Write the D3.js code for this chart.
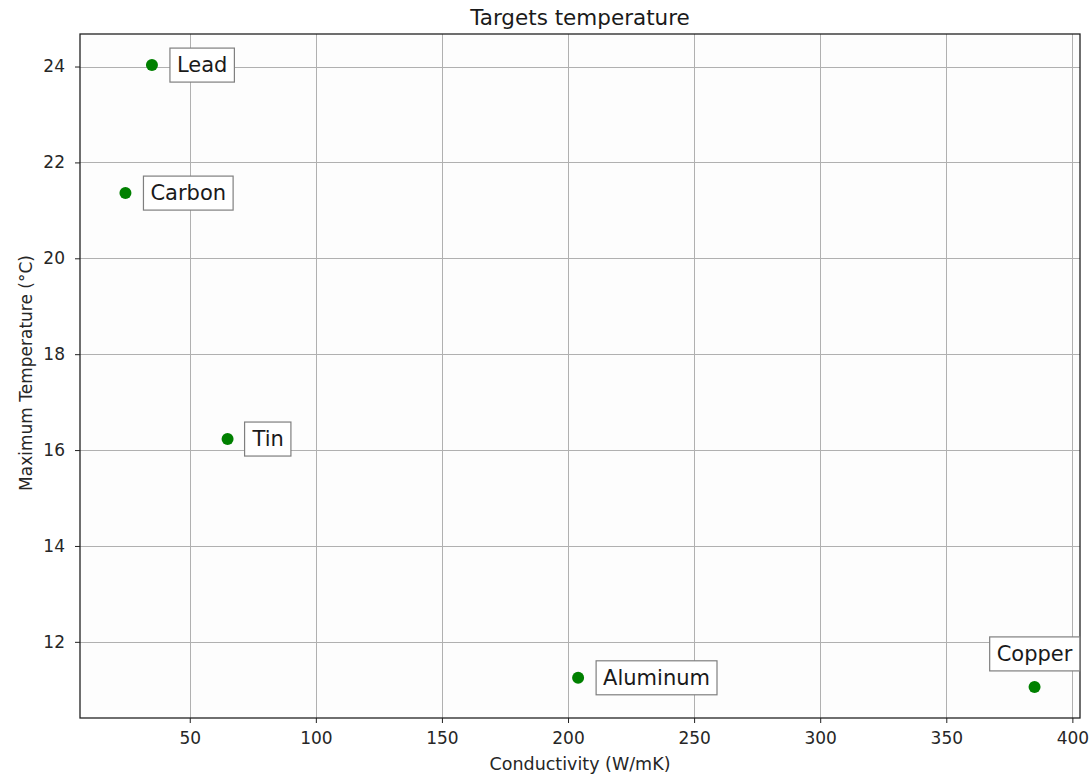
<!DOCTYPE html>
<html>
<head>
<meta charset="utf-8">
<script src="https://cdn.jsdelivr.net/npm/d3@7"></script>
<style>
  html, body { margin: 0; padding: 0; background: #ffffff; }
  svg { display: block; font-family: "DejaVu Sans", sans-serif; }
</style>
</head>
<body>
<svg id="chart" width="1091" height="778"></svg>
<script>
// Target materials: thermal conductivity vs. peak temperature
const materials = ["Lead", "Carbon", "Tin", "Aluminum", "Copper"];
const conductivity = [35, 24.5, 65, 204, 385];
const maxTemperature = [24.03, 21.36, 16.23, 11.25, 11.06];
// label placement: "right" of the point, or "above" it
const labelSide = ["right", "right", "right", "right", "above"];

const xTicks = [50, 100, 150, 200, 250, 300, 350, 400];
const yTicks = [12, 14, 16, 18, 20, 22, 24];

const W = 1091, H = 778;
const margin = { left: 80, right: 11, top: 34, bottom: 60 };
const plotW = W - margin.left - margin.right;
const plotH = H - margin.top - margin.bottom;

const svg = d3.select("#chart");

// 5% padding around the data extent on both axes
function padded(values) {
  const [lo, hi] = d3.extent(values);
  const p = (hi - lo) * 0.05;
  return [lo - p, hi + p];
}

const x = d3.scaleLinear().domain(padded(conductivity)).range([margin.left, margin.left + plotW]);
const y = d3.scaleLinear().domain(padded(maxTemperature)).range([margin.top + plotH, margin.top]);

// plot background
svg.append("rect")
  .attr("x", margin.left).attr("y", margin.top)
  .attr("width", plotW).attr("height", plotH)
  .attr("fill", "#fdfdfd");

// grid
const grid = svg.append("g").attr("stroke", "#b0b0b0").attr("stroke-width", 1);
grid.selectAll("line.gx").data(xTicks).join("line")
  .attr("x1", d => Math.round(x(d)) + 0.5).attr("x2", d => Math.round(x(d)) + 0.5)
  .attr("y1", margin.top).attr("y2", margin.top + plotH);
grid.selectAll("line.gy").data(yTicks).join("line")
  .attr("y1", d => Math.round(y(d)) + 0.5).attr("y2", d => Math.round(y(d)) + 0.5)
  .attr("x1", margin.left).attr("x2", margin.left + plotW);

// axes
const xAxis = d3.axisBottom(x).tickValues(xTicks).tickSize(5).tickPadding(9).tickFormat(d3.format("d"));
const yAxis = d3.axisLeft(y).tickValues(yTicks).tickSize(5).tickPadding(10).tickFormat(d3.format("d"));

const gx = svg.append("g").attr("transform", `translate(0,${margin.top + plotH})`).call(xAxis);
const gy = svg.append("g").attr("transform", `translate(${margin.left},0)`).call(yAxis);
[gx, gy].forEach(g => {
  g.select(".domain").remove();
  g.selectAll(".tick line").attr("stroke", "#222").attr("stroke-width", 1);
  g.selectAll(".tick text").attr("fill", "#262626").attr("font-size", 17)
    .attr("font-family", "DejaVu Sans, sans-serif");
});

// frame
svg.append("rect")
  .attr("x", margin.left).attr("y", margin.top)
  .attr("width", plotW).attr("height", plotH)
  .attr("fill", "none").attr("stroke", "#222").attr("stroke-width", 1.3);

// points
svg.append("g").selectAll("circle").data(materials).join("circle")
  .attr("cx", (d, i) => x(conductivity[i]))
  .attr("cy", (d, i) => y(maxTemperature[i]))
  .attr("r", 6)
  .attr("fill", "#008000");

// boxed labels
const labels = svg.append("g");
materials.forEach((name, i) => {
  const px = x(conductivity[i]), py = y(maxTemperature[i]);
  const padX = 7, padY = 6;
  const g = labels.append("g");
  const rect = g.append("rect");
  const t = g.append("text")
    .attr("font-size", 21)
    .attr("fill", "#1a1a1a")
    .text(name);
  if (labelSide[i] === "right") {
    t.attr("x", px + 18 + padX).attr("y", py).attr("dominant-baseline", "central");
  } else {
    t.attr("x", px).attr("y", py - 16 - padY).attr("text-anchor", "middle");
  }
  const b = t.node().getBBox();
  rect.attr("x", b.x - padX).attr("y", b.y - padY + 1)
    .attr("width", b.width + 2 * padX).attr("height", b.height + 2 * padY - 2)
    .attr("fill", "#ffffff").attr("stroke", "#7f7f7f").attr("stroke-width", 1.2);
  if (labelSide[i] === "above") {
    // keep the box bottom a fixed distance above the point
    const bottom = b.y - padY + 1 + b.height + 2 * padY - 2;
    const shift = (py - 16) - bottom;
    g.attr("transform", `translate(0,${shift})`);
  }
});

// titles
svg.append("text")
  .attr("x", margin.left + plotW / 2).attr("y", 25)
  .attr("text-anchor", "middle").attr("font-size", 21.5).attr("fill", "#1a1a1a")
  .text("Targets temperature");

svg.append("text")
  .attr("x", margin.left + plotW / 2).attr("y", 770)
  .attr("text-anchor", "middle").attr("font-size", 17.5).attr("fill", "#262626")
  .text("Conductivity (W/mK)");

svg.append("text")
  .attr("transform", `translate(32,${margin.top + plotH / 2 - 3}) rotate(-90)`)
  .attr("text-anchor", "middle").attr("font-size", 17).attr("fill", "#262626")
  .text("Maximum Temperature (°C)");
</script>
</body>
</html>
